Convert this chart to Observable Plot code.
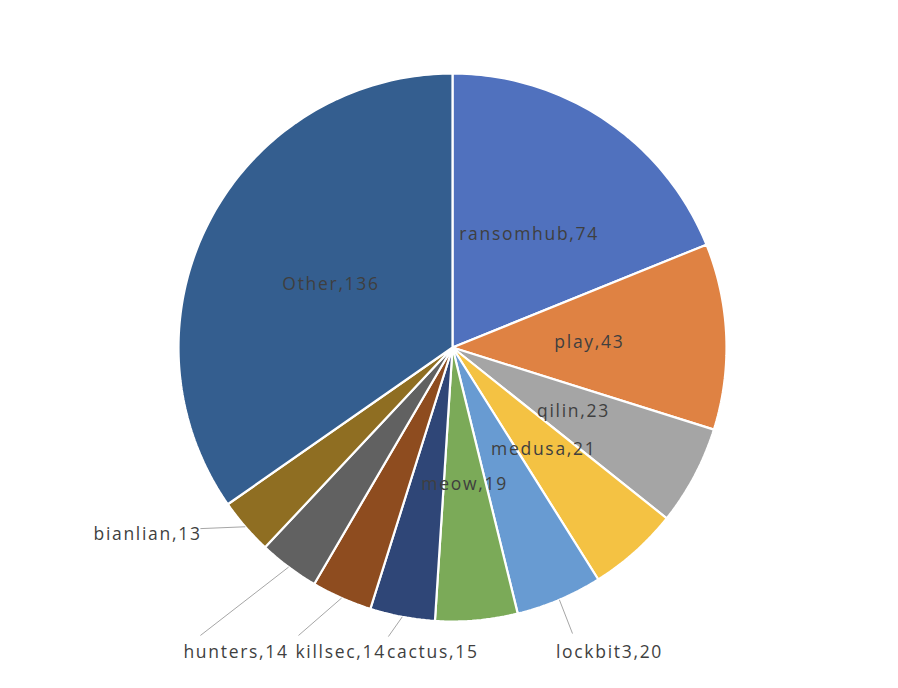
<!DOCTYPE html>
<html>
<head>
<meta charset="utf-8">
<script src="https://cdn.jsdelivr.net/npm/d3@7"></script>
<script src="https://cdn.jsdelivr.net/npm/@observablehq/plot@0.6"></script>
<style>
  html, body { margin: 0; padding: 0; background: #ffffff; }
  #chart svg { display: block; }
</style>
</head>
<body>
<div id="chart"></div>
<script>
// ---- data ----
const names  = ["ransomhub", "play", "qilin", "medusa", "lockbit3", "meow", "cactus", "killsec", "hunters", "bianlian", "Other"];
const values = [74, 43, 23, 21, 20, 19, 15, 14, 14, 13, 136];
const colors = ["#5071be", "#df8243", "#a5a5a5", "#f4c243", "#689bd2", "#7baa58", "#2f4677", "#8e4c1f", "#616161", "#8f6e22", "#345e8f"];

// ---- layout for labels placed outside the pie (units of pie radius, y up) ----
const outsideNames = ["lockbit3", "cactus", "killsec", "hunters", "bianlian"];
const leaderEndX   = [0.438, -0.234, -0.562, -0.920, -0.920];
const leaderEndY   = [-1.044, -1.055, -1.051, -1.051, -0.661];
const labelX       = [0.573, -0.072, -0.408, -0.790, -1.113];
const labelY       = [-1.111, -1.111, -1.111, -1.111, -0.682];

// pie geometry
const cx = 452, cy = 347, R = 274;
const arcs = d3.pie().sort(null).value(d => d)(values);

const polys = [];
arcs.forEach((a, i) => {
  const n = Math.max(2, Math.ceil((a.endAngle - a.startAngle) / (Math.PI / 180)) + 1);
  polys.push({name: names[i], x: 0, y: 0});
  for (let k = 0; k < n; k++) {
    const t = a.startAngle + (a.endAngle - a.startAngle) * k / (n - 1);
    polys.push({name: names[i], x: Math.sin(t), y: Math.cos(t)});
  }
  polys.push({name: names[i], x: 0, y: 0});
});

const labels = [];
const leaders = [];
arcs.forEach((a, i) => {
  const mid = (a.startAngle + a.endAngle) / 2;
  const text = `${names[i]},${values[i]}`;
  const j = outsideNames.indexOf(names[i]);
  if (j < 0) {
    labels.push({x: 0.5 * Math.sin(mid), y: 0.5 * Math.cos(mid), text});
  } else {
    labels.push({x: labelX[j], y: labelY[j], text});
    leaders.push({x1: Math.sin(mid), y1: Math.cos(mid), x2: leaderEndX[j], y2: leaderEndY[j]});
  }
});

const chart = Plot.plot({
  width: 898,
  height: 688,
  margin: 0,
  x: {domain: [-1, 1], range: [cx - R, cx + R], axis: null},
  y: {domain: [-1, 1], range: [cy + R, cy - R], axis: null},
  color: {type: "ordinal", domain: names, range: colors},
  style: {fontFamily: "Open Sans", letterSpacing: "1.7px", background: "#ffffff"},
  marks: [
    Plot.line(polys, {x: "x", y: "y", z: "name", fill: "name", stroke: "#ffffff", strokeWidth: 2.2, strokeLinejoin: "miter", curve: "linear"}),
    Plot.link(leaders, {x1: "x1", y1: "y1", x2: "x2", y2: "y2", stroke: "#a6a6a6", strokeWidth: 1}),
    Plot.text(labels, {x: "x", y: "y", text: "text", fill: "#3f3f3f", fontSize: 17.5, fontFamily: "Open Sans"})
  ]
});
document.getElementById("chart").appendChild(chart);
</script>
</body>
</html>
